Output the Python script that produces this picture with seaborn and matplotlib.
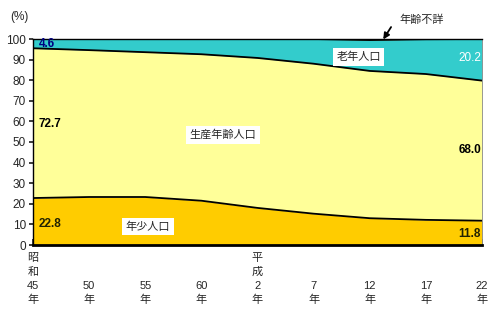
import matplotlib
matplotlib.use("Agg")
import matplotlib.pyplot as plt
import seaborn as sns
import pandas as pd
import numpy as np

# Survey years (era-based labels)
years = ["昭\n和\n45\n年", "\n\n50\n年", "\n\n55\n年", "\n\n60\n年", "平\n成\n2\n年",
         "\n\n7\n年", "\n\n12\n年", "\n\n17\n年", "\n\n22\n年"]

# Population share by age group (%)
young = [22.8, 23.3, 23.3, 21.5, 18.0, 15.2, 13.0, 12.2, 11.8]      # 年少人口
working = [72.7, 71.3, 70.3, 71.1, 72.8, 72.8, 71.5, 70.8, 68.0]    # 生産年齢人口
elderly = [4.6, 5.4, 6.4, 7.4, 9.2, 12.0, 15.0, 16.9, 20.2]         # 老年人口
unknown = [0.0, 0.0, 0.0, 0.0, 0.0, 0.0, 0.5, 0.1, 0.0]              # 年齢不詳

sns.set_theme(style="white")
plt.rcParams["font.family"] = ["Liberation Sans", "Noto Sans CJK JP"]

df = pd.DataFrame({"x": np.arange(len(years)), "young": young, "working": working,
                   "elderly": elderly, "unknown": unknown})
df["b1"] = df["young"]
df["b2"] = df["b1"] + df["working"]
df["b3"] = df["b2"] + df["elderly"]
df["b4"] = df["b3"] + df["unknown"]

fig = plt.figure(figsize=(4.91, 3.22), dpi=100)
ax = fig.add_axes([33 / 491, 1 - 245 / 322, (482 - 33) / 491, (245 - 39) / 322])

colors = ["#FFCC00", "#FFFF99", "#33CCCC", "#006600"]
ax.stackplot(df["x"], df["young"], df["working"], df["elderly"], df["unknown"],
             colors=colors, linewidth=0)

for col in ["b1", "b2", "b3"]:
    sns.lineplot(data=df, x="x", y=col, ax=ax, color="black", linewidth=1.3, legend=False)

ax.set_xlim(0, len(years) - 1)
ax.set_ylim(0, 100)
ax.set_yticks(range(0, 101, 10))
ax.set_xticks(df["x"])
ax.set_xticklabels(years, fontsize=8, linespacing=1.45, va="top")
ax.set_xlabel("")
ax.set_ylabel("")
ax.tick_params(axis="y", labelsize=8.5, length=3, direction="out", pad=2, left=True)
ax.tick_params(axis="x", length=4, direction="in", pad=6, bottom=True)
for side in ["left", "top", "right"]:
    ax.spines[side].set_linewidth(1.0)
    ax.spines[side].set_color("black")
ax.spines["right"].set_color("#888888")
ax.spines["right"].set_linewidth(0.6)
ax.spines["bottom"].set_linewidth(2.0)
ax.spines["bottom"].set_color("black")

fig.text(10 / 491, 1 - 17 / 322, "(%)", fontsize=8.5, va="center", ha="left")

# value labels
ax.text(0.1, 97.6, f"{elderly[0]:.1f}", color="#000080", fontsize=8.5, fontweight="bold", va="center")
ax.text(0.1, 58.5, f"{working[0]:.1f}", color="black", fontsize=8.5, fontweight="bold", va="center")
ax.text(0.1, 10.0, f"{young[0]:.1f}", color="#222200", fontsize=8.5, fontweight="bold", va="center")
ax.text(7.98, 91.0, f"{elderly[-1]:.1f}", color="white", fontsize=8.5, ha="right", va="center")
ax.text(7.98, 46.0, f"{working[-1]:.1f}", color="black", fontsize=8.5, fontweight="bold", ha="right", va="center")
ax.text(7.98, 5.2, f"{young[-1]:.1f}", color="#222200", fontsize=8.5, fontweight="bold", ha="right", va="center")

# series names in white boxes
box = dict(facecolor="white", edgecolor="none", pad=2.5)
ax.text(5.8, 91.3, "老年人口", fontsize=8, ha="center", va="center", bbox=box)
ax.text(3.38, 53.5, "生産年齢人口", fontsize=8, ha="center", va="center", bbox=box)
ax.text(2.05, 9.0, "年少人口", fontsize=8, ha="center", va="center", bbox=box)

ax.text(6.92, 109.5, "年齢不詳", fontsize=8, ha="center", va="center", clip_on=False)
ax.annotate("", xy=(6.24, 99.8), xytext=(6.38, 105.8), annotation_clip=False,
            arrowprops=dict(arrowstyle="-|>", color="black", lw=1.3,
                            shrinkA=0, shrinkB=0, mutation_scale=9))

fig.savefig("out.png", dpi=100)
